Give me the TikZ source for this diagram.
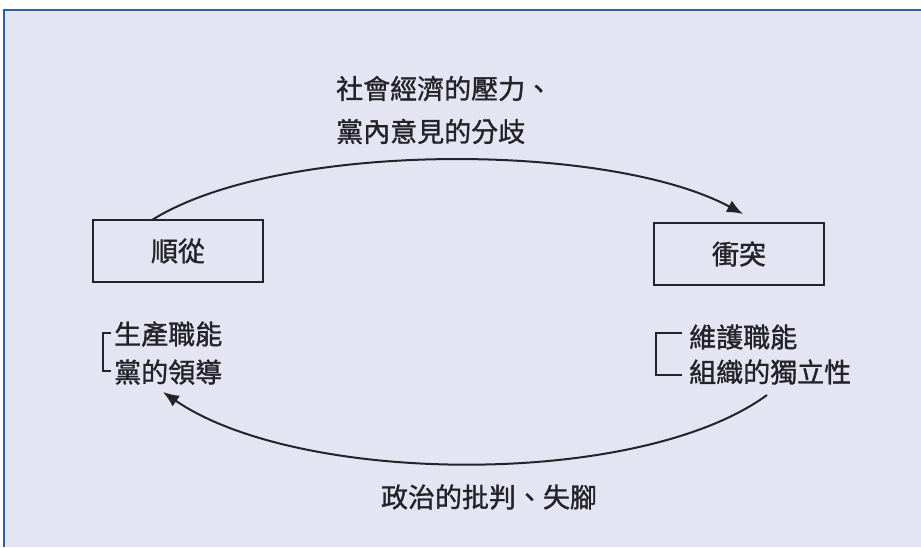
\documentclass[tikz,border=0pt]{standalone}
\usepackage{fontspec}
\newfontfamily\cjk[FakeBold=1.2]{Noto Sans CJK TC}
\usetikzlibrary{arrows.meta}
\definecolor{bgpaper}{RGB}{229,228,242}
\definecolor{frameblue}{RGB}{44,98,165}
\definecolor{ink}{RGB}{35,35,40}
\begin{document}
\begin{tikzpicture}[x=1pt,y=-1pt,
  every node/.style={font=\cjk\fontsize{27}{43}\selectfont, text=ink, inner sep=0pt},
  statebox/.style={draw=ink, line width=2pt, minimum width=170pt, minimum height=62pt},
  itemtext/.style={anchor=west},
  bracketline/.style={draw=ink, line width=2pt},
  flow/.style={draw=ink, line width=2pt, -{Latex[length=16pt,width=13pt]}}]
\useasboundingbox (0,0) rectangle (921,547);
\fill[white] (0,0) rectangle (921,547);
\fill[bgpaper] (4,10) rectangle (921,547);
\draw[frameblue, line width=2.2pt] (4,547) -- (4,10) -- (921,10);
% boxes
\node[statebox] (comply) at (178,251) {順從};
\node[statebox] (conflict) at (739,254) {衝突};
% top label
\node[anchor=west, align=left] (pressure) at (336,110) {社會經濟的壓力、\\黨內意見的分歧};
% left list
\node[itemtext] (prod) at (114,334) {生產職能};
\node[itemtext] (lead) at (114,372) {黨的領導};
% right list
\node[itemtext] (maint) at (689,337) {維護職能};
\node[itemtext] (indep) at (689,372) {組織的獨立性};
% brackets
\coordinate (lbt) at (111,333);
\coordinate (lbb) at (111,371);
\path[bracketline] (lbt) -- (103,333) -- (103,371) -- (lbb);
\coordinate (rbt) at (682,333);
\coordinate (rbb) at (682,375);
\path[bracketline] (rbt) -- (656,333) -- (656,375) -- (rbb);
% bottom label
\node (critique) at (489,497) {政治的批判、失腳};
% arrows
\coordinate (topstart) at (152,220);
\coordinate (topend) at (743,214);
\path[flow] (topstart) .. controls (280,140) and (610,142) .. (topend);
\coordinate (botstart) at (767,395);
\coordinate (botend) at (163,392);
\path[flow] (botstart) .. controls (640,488) and (300,486) .. (botend);
\end{tikzpicture}
\end{document}
